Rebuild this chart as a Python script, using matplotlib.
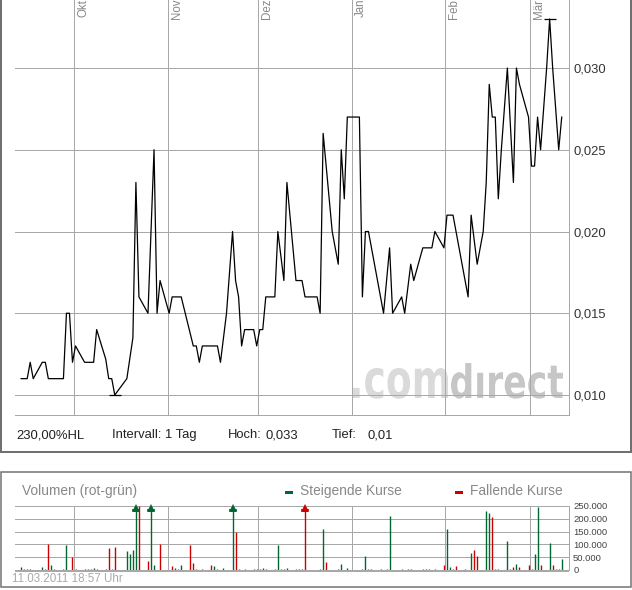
import matplotlib
matplotlib.use("Agg")
import matplotlib.pyplot as plt
import numpy as np
from matplotlib.lines import Line2D
from matplotlib.patches import Rectangle, PathPatch
from matplotlib.textpath import TextPath
from matplotlib.font_manager import FontProperties
from matplotlib.transforms import Affine2D

# ---------------- data (day offsets relative to 01.10.2010) ----------------
price_day = [-18, -16, -15, -14, -11, -10, -9, -4, -3, -2,
             -1, 0, 3, 6, 7, 10, 11, 12, 13, 17,
             19, 20, 21, 24, 25, 26, 27, 28, 31, 32,
             35, 39, 40, 41, 42, 47, 48, 50, 52, 53,
             54, 55, 56, 59, 60, 61, 62, 63, 66, 67,
             69, 70, 73, 75, 76, 80, 81, 82, 83, 85,
             87, 88, 89, 90, 94, 95, 96, 97, 102, 104,
             105, 108, 109, 111, 112, 115, 118, 119, 122, 123,
             125, 130, 131, 133, 135, 136, 137, 138, 139, 140,
             141, 143, 145, 146, 147, 150, 151, 152, 153, 154,
             156, 157, 158, 160, 161]
price_val = [0.011, 0.011, 0.012, 0.011, 0.012, 0.012, 0.011, 0.011, 0.015, 0.015,
             0.012, 0.013, 0.012, 0.012, 0.014, 0.0122, 0.011, 0.011, 0.010, 0.011,
             0.0135, 0.023, 0.016, 0.015, 0.020, 0.025, 0.015, 0.017, 0.015, 0.016,
             0.016, 0.013, 0.013, 0.012, 0.013, 0.013, 0.012, 0.015, 0.020, 0.017,
             0.016, 0.013, 0.014, 0.014, 0.013, 0.014, 0.014, 0.016, 0.016, 0.020,
             0.017, 0.023, 0.017, 0.017, 0.016, 0.016, 0.015, 0.026, 0.024, 0.020,
             0.018, 0.025, 0.022, 0.027, 0.027, 0.016, 0.020, 0.020, 0.015, 0.019,
             0.015, 0.016, 0.015, 0.018, 0.017, 0.019, 0.019, 0.020, 0.019, 0.021,
             0.021, 0.016, 0.021, 0.018, 0.020, 0.023, 0.029, 0.027, 0.027, 0.022,
             0.025, 0.030, 0.023, 0.030, 0.029, 0.027, 0.024, 0.024, 0.027, 0.025,
             0.030, 0.033, 0.030, 0.025, 0.027]

vol_day = [-18, -17, -16, -15, -11, -10, -9, -8, -7, -4,
           -3, -1, 0, 3, 4, 5, 6, 7, 10, 11,
           12, 13, 17, 18, 19, 20, 21, 24, 25, 26,
           28, 32, 33, 34, 35, 38, 39, 40, 42, 45,
           46, 47, 49, 52, 53, 54, 56, 59, 60, 61,
           62, 63, 66, 67, 68, 69, 70, 73, 74, 75,
           76, 81, 82, 83, 87, 88, 90, 95, 96, 97,
           98, 101, 103, 104, 108, 110, 111, 115, 116, 117,
           119, 122, 123, 124, 125, 126, 129, 131, 132, 133,
           136, 137, 138, 139, 140, 143, 144, 145, 146, 147,
           150, 151, 152, 153, 154, 157, 158, 159, 160, 161]
vol_val = [13000, 3000, 3000, 3000, 11000, 4000, 100000, 19000, 4000, 3000,
           96000, 50000, 4000, 3000, 3000, 4000, 8000, 3000, 4000, 85000,
           5000, 88000, 73000, 62000, 77000, 400000, 250000, 35000, 400000, 19000,
           100000, 15000, 8000, 4000, 19000, 96000, 27000, 3000, 3000, 19000,
           15000, 3000, 8000, 400000, 150000, 3000, 3000, 3000, 3000, 3000,
           8000, 3000, 3000, 96000, 4000, 3000, 8000, 3000, 3000, 3000,
           400000, 3000, 160000, 31000, 3000, 23000, 8000, 3000, 54000, 3000,
           4000, 3000, 3000, 211000, 3000, 3000, 3000, 3000, 3000, 4000,
           3000, 19000, 161000, 11000, 3000, 15000, 3000, 65000, 77000, 54000,
           231000, 223000, 208000, 3000, 3000, 112000, 3000, 11000, 23000, 11000,
           19000, 3000, 62000, 247000, 19000, 104000, 19000, 3000, 3000, 42000]
vol_up = [1, 1, 1, 1, 1, 1, 0, 1, 1, 1,
          1, 0, 1, 0, 1, 1, 1, 1, 0, 0,
          1, 0, 1, 1, 1, 1, 0, 0, 1, 1,
          0, 0, 1, 1, 1, 0, 0, 1, 1, 0,
          1, 1, 1, 1, 0, 0, 0, 1, 0, 1,
          1, 1, 1, 1, 0, 0, 1, 1, 1, 1,
          0, 0, 1, 0, 0, 1, 1, 0, 1, 1,
          0, 0, 1, 1, 0, 1, 1, 1, 1, 1,
          1, 0, 1, 1, 1, 0, 0, 1, 0, 0,
          1, 1, 0, 1, 0, 1, 0, 0, 1, 0,
          0, 0, 1, 1, 0, 1, 0, 0, 0, 1]

month_names = ["Okt", "Nov", "Dez", "Jan", "Feb", "Mär"]
month_days = [0, 31, 61, 92, 123, 151]
price_ticks = [0.010, 0.015, 0.020, 0.025, 0.030]
price_tick_labels = ["0,010", "0,015", "0,020", "0,025", "0,030"]
vol_ticks = [0, 50000, 100000, 150000, 200000, 250000]
vol_tick_labels = ["0", "50.000", "100.000", "150.000", "200.000", "250.000"]
vol_cap = 250000

# ---------------- styling ----------------
W, H = 632, 590
GRID = "#a8a8a8"
GREEN = "#006633"
RED = "#cc0000"
PX = 0.72  # one pixel in points at 100 dpi

plt.rcParams["font.family"] = ["Liberation Sans", "DejaVu Sans"]
fig = plt.figure(figsize=(W / 100, H / 100), dpi=100)
fig.patch.set_facecolor("white")


def fx(x):
    return x / W


def fy(y):
    return 1 - y / H


XLIM = ((15 - 74) / 3.02, (569 - 74) / 3.02)

# ---------------- price panel ----------------
ax = fig.add_axes([fx(15), fy(415), (569 - 15) / W, 415 / H])
ax.set_facecolor("none")
ax.set_xlim(*XLIM)
ax.set_ylim(0.008777, 0.034159)
for v in price_ticks:
    ax.axhline(v, color=GRID, lw=PX, zorder=1)
for d in month_days:
    ax.axvline(d, color=GRID, lw=PX, zorder=1)
for s in ["top", "left"]:
    ax.spines[s].set_visible(False)
for s in ["bottom", "right"]:
    ax.spines[s].set_color(GRID)
    ax.spines[s].set_linewidth(PX)
ax.set_xticks([])
ax.yaxis.tick_right()
ax.set_yticks(price_ticks)
ax.set_yticklabels(price_tick_labels)
ax.tick_params(axis="y", length=0, pad=3.5, labelsize=9.4, labelcolor="#333333")

px_day = np.array(price_day) + 0.5
ax.plot(px_day, price_val, color="black", lw=0.9, zorder=3)
imax = int(np.argmax(price_val))
imin = int(np.argmin(price_val))
for i in (imax, imin):
    ax.plot([px_day[i]], [price_val[i]], marker="_", ms=8, mew=0.9,
            color="black", zorder=3)

for name, d in zip(month_names, month_days):
    ax.text(d + 1.0, 1.003, name, transform=ax.get_xaxis_transform(),
            rotation=90, ha="left", va="top", fontsize=8.3, color="#888888",
            clip_on=False)

# watermark
fp = FontProperties(family="DejaVu Sans", weight="bold")


def logo(s, x0, x1, ybase, height, color):
    tp = TextPath((0, 0), s, size=100, prop=fp)
    bb = tp.get_extents()
    sx = (x1 - x0) / bb.width
    sy = height / bb.y1
    tr = (Affine2D().translate(-bb.x0, 0).scale(sx, sy)
          .translate(x0, H - ybase).scale(0.01) + fig.dpi_scale_trans)
    p = PathPatch(tp, transform=tr, facecolor=color, edgecolor="none", zorder=-1)
    fig.add_artist(p)


logo(".com", 353, 448, 398, 30, "#dadada")
logo("d\u0131rect", 451, 563, 398, 35, "#c6c6c6")

# info line
info_kw = dict(fontsize=9.4, color="#222222", va="center", ha="left")
fig.text(fx(16), fy(435), "230,00%HL", **info_kw)
fig.text(fx(112), fy(435), "Intervall: 1 Tag", **info_kw)
fig.text(fx(228), fy(435), "Hoch:", **info_kw)
fig.text(fx(265), fy(435), "0,033", **info_kw)
fig.text(fx(332), fy(435), "Tief:", **info_kw)
fig.text(fx(368), fy(435), "0,01", **info_kw)

# ---------------- volume panel ----------------
axv = fig.add_axes([fx(15), fy(573), (569 - 15) / W, (573 - 504) / H])
axv.set_facecolor("none")
axv.set_xlim(*XLIM)
axv.set_ylim(-11719, 257812)
for v in vol_ticks[1:]:
    axv.axhline(v, color=GRID, lw=PX, zorder=1)
axv.vlines(month_days, 0, vol_cap, color=GRID, lw=PX, zorder=1)
for s in ["top", "left", "bottom"]:
    axv.spines[s].set_visible(False)
axv.spines["right"].set_color(GRID)
axv.spines["right"].set_linewidth(PX)
axv.spines["right"].set_bounds(0, vol_cap)
axv.set_xticks([])
axv.yaxis.tick_right()
axv.set_yticks(vol_ticks)
axv.set_yticklabels(vol_tick_labels)
axv.tick_params(axis="y", length=0, pad=3, labelsize=6.8, labelcolor="#444444")

vx = np.array(vol_day) + 0.5
vv = np.array(vol_val)
cols = [GREEN if u else RED for u in vol_up]
axv.vlines(vx, 0, np.minimum(vv, vol_cap), colors=cols, lw=1.0, zorder=2)
for x, v, c in zip(vx, vv, cols):
    if v > vol_cap:
        axv.plot([x], [vol_cap - 6000], marker="^", ms=6, color=c, mew=0, zorder=3)
        axv.plot([x], [vol_cap - 17000], marker="_", ms=6, mew=1.2, color=c, zorder=3)
axv.axhline(-3900, color="#a8a8a8", lw=2 * PX, zorder=4)

fig.text(fx(22), fy(491), "Volumen (rot-grün)", fontsize=9.9, color="#888888",
         va="center", ha="left")
fig.add_artist(Rectangle((fx(285), fy(493.5)), 8 / W, 3 / H, transform=fig.transFigure,
                         facecolor=GREEN, edgecolor="none"))
fig.text(fx(300), fy(491), "Steigende Kurse", fontsize=9.9, color="#888888",
         va="center", ha="left")
fig.add_artist(Rectangle((fx(455), fy(493.5)), 8 / W, 3 / H, transform=fig.transFigure,
                         facecolor=RED, edgecolor="none"))
fig.text(fx(470), fy(491), "Fallende Kurse", fontsize=9.9, color="#888888",
         va="center", ha="left")
fig.text(fx(12), fy(579), "11.03.2011 18:57 Uhr", fontsize=8.4, color="#aaaaaa",
         va="center", ha="left")

# ---------------- frames ----------------
FR = "#707070"
fig.add_artist(Line2D([fx(1), fx(1)], [fy(-5), fy(452)], color=FR, lw=2 * PX,
                      transform=fig.transFigure))
fig.add_artist(Line2D([fx(630.5), fx(630.5)], [fy(-5), fy(452)], color=FR, lw=2 * PX,
                      transform=fig.transFigure))
fig.add_artist(Line2D([fx(0), fx(632)], [fy(452), fy(452)], color=FR, lw=2 * PX,
                      transform=fig.transFigure))
fig.add_artist(Rectangle((fx(1), fy(587)), 630 / W, 115 / H, transform=fig.transFigure,
                         facecolor="none", edgecolor=FR, lw=1.5 * PX))

fig.savefig("out.png", dpi=100, facecolor="white")
